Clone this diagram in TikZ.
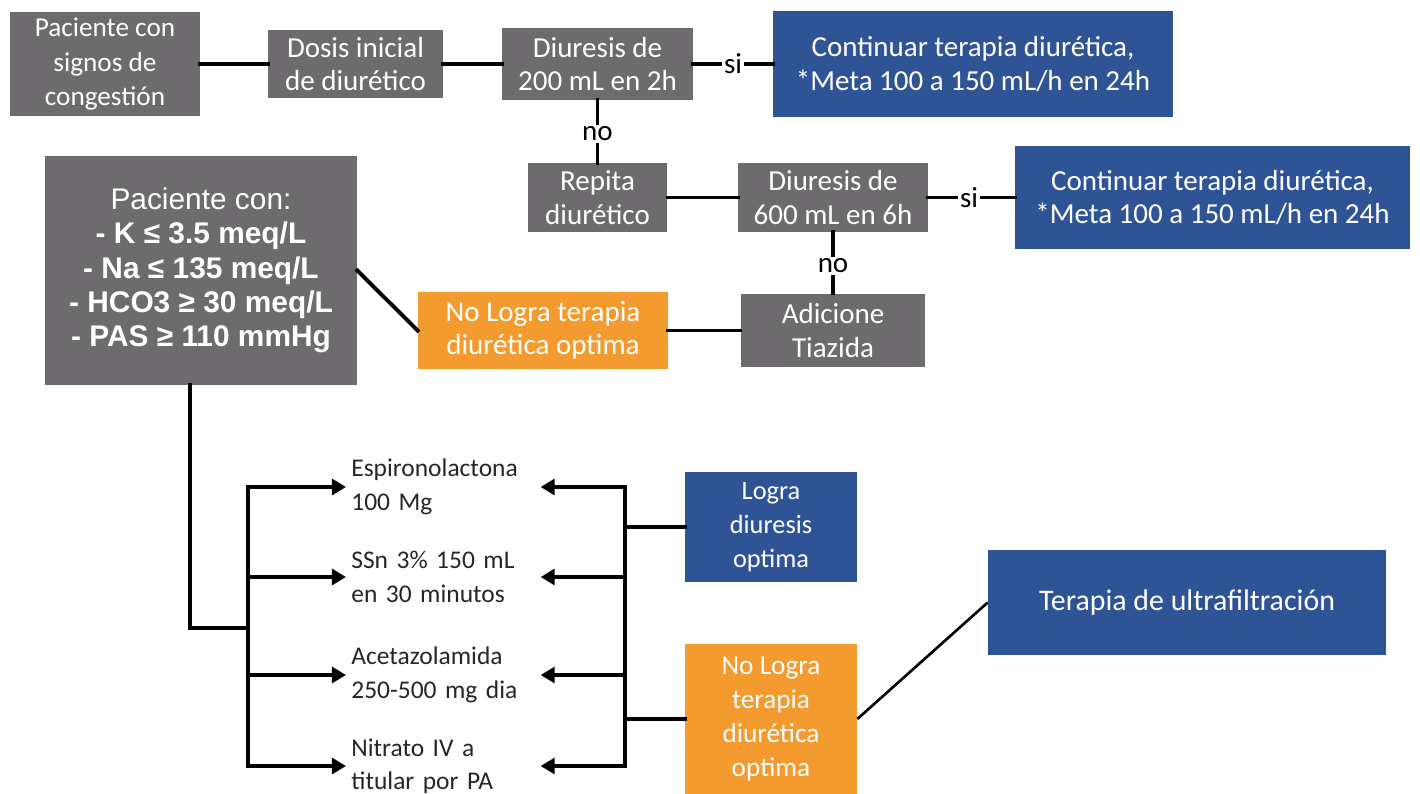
\documentclass[tikz,border=0pt]{standalone}
\usepackage{fontspec}
\setmainfont{Carlito}
\newfontfamily\arialfont{Liberation Sans}
\usetikzlibrary{arrows.meta}
\definecolor{gris}{RGB}{110,107,110}
\definecolor{azul}{RGB}{47,84,150}
\definecolor{naranja}{RGB}{244,155,48}

\begin{document}
\begin{tikzpicture}[x=0.02cm,y=-0.02cm]
\tikzstyle{every node}=[font=\fontsize{16.5}{19}\selectfont]
\tikzstyle{caja}=[inner sep=0pt,align=center,text=white]
\tikzstyle{grisbox}=[caja,fill=gris]
\tikzstyle{azulbox}=[caja,fill=azul]
\tikzstyle{narbox}=[caja,fill=naranja]
\tikzstyle{linea}=[line width=2.2pt,line cap=rect]
\tikzstyle{flecha}=[line width=2.2pt,-{Triangle[length=8pt,width=9pt]}]
\tikzstyle{texto}=[anchor=west,align=left,inner sep=0.1cm,text width=3.68cm,text=black!85,font=\fontsize{14.5}{19}\selectfont]
\tikzstyle{etiq}=[inner sep=2pt]
\useasboundingbox (0,0) rectangle (1420,794);

%%%------------------------------------------------------------------------------------------------------------
\node[grisbox,minimum width=3.8cm,minimum height=2.1cm,font=\fontsize{15.5}{19.5}\selectfont] (A) at (105,64) {Paciente con\\signos de\\congestión};
\node[grisbox,minimum width=3.5cm,minimum height=1.36cm] (B) at (355.5,64) {Dosis inicial\\de diurético};
\node[grisbox,minimum width=3.82cm,minimum height=1.44cm] (C) at (597.5,64) {Diuresis de\\200 mL en 2h};
\node[etiq] (si1) at (733,64) {si};
\node[azulbox,minimum width=8cm,minimum height=2.14cm] (D) at (973,64) {Continuar terapia diurética,\\*Meta 100 a 150 mL/h en 24h};
\node[etiq] (no1) at (597.5,134) {no};
\draw[linea] (A) -- (B);
\draw[linea] (B) -- (C);
\draw[linea] (C) -- (si1) -- (D);

%%%------------------------------------------------------------------------------------------------------------
\node[grisbox,minimum width=2.8cm,minimum height=1.38cm] (E) at (597.5,197.5) {Repita\\diurético};
\node[grisbox,minimum width=3.8cm,minimum height=1.38cm] (F) at (833,197.5) {Diuresis de\\600 mL en 6h};
\node[etiq] (si2) at (969,197.5) {si};
\node[azulbox,minimum width=7.9cm,minimum height=2.06cm] (G) at (1212.5,197.5) {Continuar terapia diurética,\\*Meta 100 a 150 mL/h en 24h};
\node[etiq] (no2) at (833,266) {no};
\node[grisbox,minimum width=3.7cm,minimum height=1.48cm] (H) at (833,330.5) {Adicione\\Tiazida};
\node[narbox,minimum width=5cm,minimum height=1.56cm] (I) at (543,330.5) {No Logra terapia\\diurética optima};
\node[grisbox,minimum width=6.24cm,minimum height=4.58cm,font=\arialfont\fontsize{17}{19.5}\selectfont] (J) at (201,270.5) {Paciente con:\\\textbf{- K ≤ 3.5 meq/L}\\\textbf{- Na ≤ 135 meq/L}\\\textbf{- HCO3 ≥ 30 meq/L}\\\textbf{- PAS ≥ 110 mmHg}};
\draw[linea] (C) -- (no1) -- (E);
\draw[linea] (E) -- (F);
\draw[linea] (F) -- (si2) -- (G);
\draw[linea] (F) -- (no2) -- (H);
\draw[linea] (H) -- (I);
\draw[linea] (J.east) -- (I.west);

%%%------------------------------------------------------------------------------------------------------------
\node[texto] (t1) at (346,487) {Espironolactona\\100 Mg};
\node[texto] (t2) at (346,577) {SSn 3\% 150 mL\\en 30 minutos};
\node[texto] (t3) at (346,675) {Acetazolamida\\250-500 mg dia};
\node[texto] (t4) at (346,766) {Nitrato IV a\\titular por PA};
\node[azulbox,minimum width=3.44cm,minimum height=2.2cm,font=\fontsize{15}{19.5}\selectfont] (K) at (771,527) {Logra\\diuresis\\optima};
\node[narbox,minimum width=3.44cm,minimum height=3cm,font=\fontsize{15.5}{19.5}\selectfont] (L) at (771,719) {No Logra\\terapia\\diurética\\optima};
\node[azulbox,minimum width=7.96cm,minimum height=2.1cm,font=\fontsize{17}{20}\selectfont] (M) at (1187,602.5) {Terapia de ultrafiltración};
\coordinate (bj) at (248,628);
\coordinate (b1) at (248,487);
\coordinate (b2) at (248,577);
\coordinate (b3) at (248,675);
\coordinate (b4) at (248,766);
\coordinate (r1) at (625,487);
\coordinate (r2) at (625,577);
\coordinate (r3) at (625,675);
\coordinate (r4) at (625,766);
\coordinate (rk) at (625,527);
\coordinate (rl) at (625,719);
\draw[linea] ([xshift=-0.22cm]J.south) |- (bj);
\draw[linea] (b1) -- (b4);
\draw[linea] (r1) -- (r4);
\foreach \i in {1,...,4}{\draw[flecha] (b\i) -- (t\i);}
\foreach \i in {1,...,4}{\draw[flecha] (r\i) -- (t\i);}
\draw[linea] (rk) -- (K);
\draw[linea] (rl) -- (L);
\draw[line width=1.5pt] (L.east) -- (M.west);
\end{tikzpicture}
\end{document}
